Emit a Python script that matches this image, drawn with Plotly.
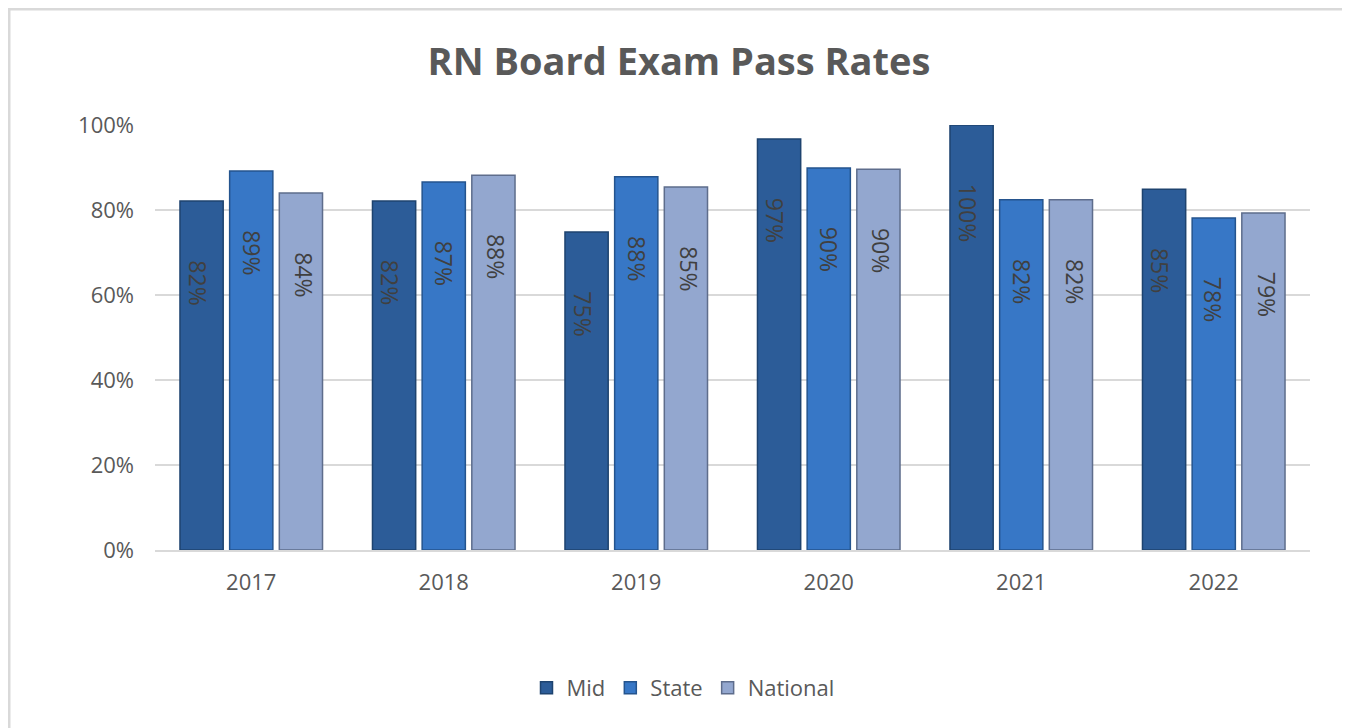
import plotly.graph_objects as go

years = ["2017", "2018", "2019", "2020", "2021", "2022"]
mid = [82.1, 82.1, 74.8, 96.7, 100.0, 84.9]
state = [89.2, 86.6, 87.8, 89.9, 82.4, 78.1]
national = [84.0, 88.2, 85.4, 89.6, 82.4, 79.3]

series = [
    ("Mid", mid, "#2C5C98", "#1E436F", -53),
    ("State", state, "#3777C6", "#24548E", 0),
    ("National", national, "#93A7CF", "#5E6D8C", 53),
]

FONT = "Open Sans"
GRAY = "#595959"
OFF = 8  # page body margin

# target page pixel positions
L, R, T, B = 155 - OFF, 1310 - OFF, 125 - OFF, 550 - OFF
W, H = 1350 - OFF, 728 - OFF
pw, ph = R - L, B - T

def px(x):
    return (x - OFF - L) / pw

def py(y):
    return (B - (y - OFF)) / ph

fig = go.Figure()
annotations = []
for name, vals, col, edge, shift in series:
    fig.add_trace(go.Bar(
        name=name, x=years, y=vals,
        marker=dict(color=col, line=dict(color=edge, width=1.5)),
    ))
    for i, v in enumerate(vals):
        annotations.append(dict(
            x=i, y=v, xref="x", yref="y", text=f"{v:.0f}%",
            textangle=90, showarrow=False, xshift=shift, yshift=-57,
            xanchor="center", yanchor="top",
            font=dict(family=FONT, size=23, color="#404040"),
        ))

fig.update_layout(
    width=W, height=H,
    margin=dict(l=L, r=W - R, t=T, b=H - B, pad=0),
    paper_bgcolor="white", plot_bgcolor="white",
    barmode="group", bargap=0.226, bargroupgap=0.13,
    title=dict(text="<b>RN Board Exam Pass Rates</b>", x=0.5, xanchor="center",
               y=1 - (62 - OFF) / H, yanchor="middle",
               font=dict(family=FONT, size=38, color=GRAY)),
    font=dict(family=FONT, color=GRAY),
    legend=dict(orientation="h", x=px(683), xanchor="center", y=py(688), yanchor="middle",
                font=dict(family=FONT, size=22, color=GRAY), itemwidth=30,
                traceorder="normal"),
    showlegend=True,
    annotations=annotations,
    shapes=[dict(type="rect", xref="paper", yref="paper",
                 x0=px(9), x1=px(1347), y0=py(760), y1=py(9),
                 line=dict(color="#D9D9D9", width=3), layer="below")],
)
fig.update_yaxes(range=[0, 100], dtick=20, ticksuffix="%",
                 showgrid=True, gridcolor="#D9D9D9", gridwidth=2,
                 zeroline=False, showline=False,
                 tickfont=dict(family=FONT, size=22, color=GRAY),
                 ticks="", ticklabelstandoff=20)
fig.update_xaxes(type="category", categoryorder="array", categoryarray=years,
                 range=[-0.5, len(years) - 0.5],
                 showline=True, linecolor="#D9D9D9", linewidth=2,
                 tickfont=dict(family=FONT, size=22, color=GRAY),
                 ticks="", ticklabelstandoff=12)

fig.write_html("out.html")
